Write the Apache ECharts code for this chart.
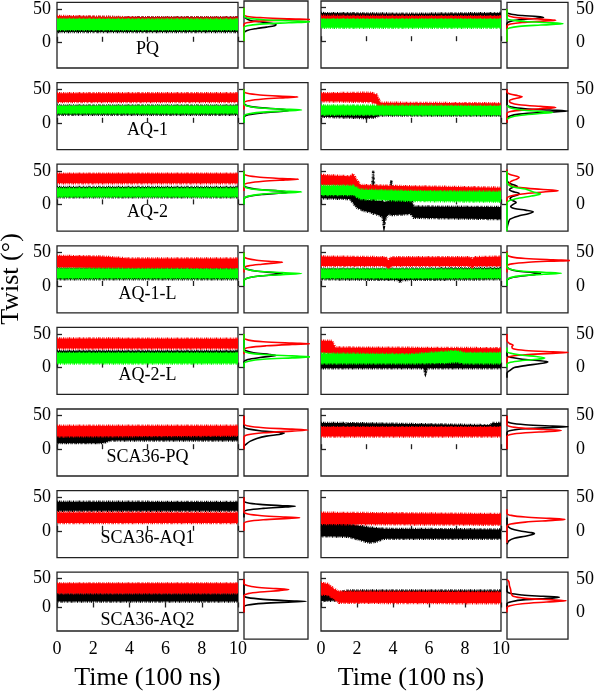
<!DOCTYPE html>
<html><head><meta charset="utf-8">
<script src="https://cdn.jsdelivr.net/npm/echarts@6/dist/echarts.min.js"></script>
<style>html,body{margin:0;padding:0;background:#fff}#c{width:600px;height:692px}</style>
</head><body><div id="c"></div>
<script>
// ---------- tick / label data ----------
const panelLabels = ['PQ','AQ-1','AQ-2','AQ-1-L','AQ-2-L','SCA36-PQ','SCA36-AQ1','SCA36-AQ2'];
const twistTicks = [0, 50];
const timeTickStepUpper = 2.5;
const timeTickStepBottom = 2;
const twistRange = [-40, 60];
const timeRange = [0, 10];

// ---------- time-series bands: [time (100 ns), low twist, high twist] ----------
const pqL_k = [[0,15,38],[5,15,37.5],[10,15,37.5]];
const pqL_r = [[0,20,39.5],[5,21,37],[10,21,37]];
const pqL_g = [[0,18,35],[5,18,34.5],[10,18,34.5]];
const pqR_k = [[0,31,42],[5,30,41],[10,31,42]];
const pqR_r = [[0,27,38],[5,27,37.5],[10,27,37.5]];
const pqR_g = [[0,20,33],[5,20,33],[10,20,33]];

const aq1L_k = [[0,12,26],[10,12,26]];
const aq1L_r = [[0,31,44],[10,31,44]];
const aq1L_g = [[0,14,25],[10,14,25]];
const aq1R_k = [[0,9,24],[2.5,7,24],[3,8,24],[3.3,11,23],[10,11,23]];
const aq1R_r = [[0,32,44],[2.8,31,45],[3.1,28,42],[3.3,18,30],[10,17,29]];
const aq1R_g = [[0,12,26],[10,11.5,25]];

const aq2L_k = [[0,10.5,26],[10,10.5,26]];
const aq2L_r = [[0,31.5,46],[10,31.5,46]];
const aq2L_g = [[0,11.5,24],[10,11.5,24]];
const aq2R_k = [[0,9,21],[1.6,8,20],[2.0,-5,14],[2.4,-10,8],[2.8,-12,6],[2.9,-14,51],[3.0,-14,6],[3.4,-18,5],[3.5,-33,4],[3.6,-20,4],[3.8,-14,6],[3.9,-16,36],[4.0,-16,6],[4.6,-15,7],[5.0,-14,8],[5.15,-20,-3],[10,-22,-4]];
const aq2R_r = [[0,29,44],[1.6,28,42],[1.8,27,45],[2.0,22,36],[2.2,17,29],[5,14,27],[10,12,25]];
const aq2R_g = [[0,14,28],[1.8,14,28],[2.2,8,22],[5,5,20],[10,4,19]];

const aq1lL_k = [[0,10,26.5],[10,10,26.5]];
const aq1lL_r = [[0,28,45],[2.5,27,44],[4,26,41],[10,26,41]];
const aq1lL_g = [[0,11.5,26],[10,11.5,25]];
const aq1lR_k = [[0,10,26],[4.3,9,26],[4.4,5,26],[4.5,9,26],[10,10,27]];
const aq1lR_r = [[0,30,44],[3.6,30,43],[3.75,25,38],[3.9,30,43],[8.3,30,43],[8.4,27,40],[8.5,30,43],[10,30,44]];
const aq1lR_g = [[0,11.5,25],[10,11.5,25]];

const aq2lL_k = [[0,12,25],[10,12,25]];
const aq2lL_r = [[0,28.5,43.5],[10,28.5,43]];
const aq2lL_g = [[0,6,22],[10,6,22]];
const aq2lR_k = [[0,-1,14],[5.7,-1,13],[5.8,-9,12],[5.9,-1,13],[10,-1,13]];
const aq2lR_r = [[0,22,40],[0.6,21,40],[0.8,17,30],[10,17,29]];
const aq2lR_g = [[0,6,21],[5,6,20],[7,7,24],[7.5,8,25],[8,6,22],[10,6,22]];

const scaPqL_k = [[0,9,27],[2.5,9,27],[3,13,29],[10,13,31]];
const scaPqL_r = [[0,19,35],[10,20,35]];
const scaPqR_k = [[0,27,39],[1.3,26,39],[1.4,21,38],[1.5,26,39],[8.9,22,36],[9.4,22,36],[9.5,27,39],[10,27,39]];
const scaPqR_r = [[0,19,33],[10,19,33]];

const scaAq1L_k = [[0,30,43.5],[10,30,43]];
const scaAq1L_r = [[0,11.5,27.5],[10,11.5,27]];
const scaAq1R_k = [[0,-8,11],[1.5,-9,10],[2.2,-14,7],[2.7,-18,5],[3.1,-16,4],[3.5,-12,3],[10,-12,2]];
const scaAq1R_r = [[0,10,27],[10,9,25]];

const scaAq2L_k = [[0,10,24],[10,10,24]];
const scaAq2L_r = [[0,24,41],[10,24,41]];
const scaAq2R_k = [[0,11,25],[1,12,26],[1.5,14,29],[10,14,29]];
const scaAq2R_r = [[0,22,42],[0.4,21,40],[0.7,15,32],[1.0,8,27],[10,7,26]];

// ---------- histograms: [twist, relative density] ----------
const pqL_kH = [[0,0],[12,0],[16,0.05],[19,0.2],[21,0.35],[23,0.48],[25,0.5],[27,0.4],[29,0.25],[31,0.1],[34,0.03],[38,0],[50,0]];
const pqL_rH = [[0,0],[25,0],[28,0.07],[30,0.25],[31.5,0.6],[32.5,1.05],[33.5,0.7],[35,0.3],[36.5,0.08],[40,0],[50,0]];
const pqL_gH = [[0,0],[20,0],[23,0.05],[25.5,0.25],[27.5,0.7],[29,1.05],[30.5,0.7],[32.5,0.25],[34.5,0.05],[38,0],[50,0]];
const pqR_kH = [[0,0],[28,0],[31,0.05],[33.5,0.2],[35.5,0.45],[37,0.6],[38.5,0.5],[40,0.25],[42,0.07],[45,0],[50,0]];
const pqR_rH = [[0,0],[24,0],[27,0.06],[29.5,0.25],[31.5,0.6],[33,0.8],[34.5,0.55],[36.5,0.2],[39,0.04],[42,0],[50,0]];
const pqR_gH = [[0,0],[18,0],[21,0.04],[23.5,0.2],[25.5,0.55],[27.5,0.92],[29,0.7],[31,0.3],[33,0.08],[36,0],[50,0]];

const aq1L_kH = [[0,0],[8,0],[12,0.07],[15,0.3],[17.5,0.65],[19,0.7],[20.5,0.55],[23,0.2],[26,0.04],[30,0],[50,0]];
const aq1L_rH = [[20,0],[30,0],[33,0.08],[35.5,0.3],[37.5,0.65],[38.5,0.84],[39.5,0.6],[41.5,0.25],[44,0.05],[47,0],[50,0]];
const aq1L_gH = [[0,0],[10,0],[13,0.06],[15.5,0.25],[17.5,0.6],[19,0.9],[20.5,0.6],[22.5,0.22],[25,0.05],[28,0],[50,0]];
const aq1R_kH = [[0,0],[6,0],[10,0.05],[13,0.2],[15.5,0.55],[17.5,1.0],[19,0.7],[21,0.3],[23.5,0.08],[27,0],[50,0]];
const aq1R_rH = [[0,0],[14,0],[17,0.06],[19.5,0.3],[21.5,0.65],[23,0.8],[24.5,0.55],[27,0.2],[30,0.06],[33,0.04],[35.5,0.1],[37.5,0.2],[39,0.25],[40.5,0.18],[43,0.05],[46,0],[50,0]];
const aq1R_gH = [[5,0],[8,0.05],[11,0.2],[13.5,0.5],[15.5,0.75],[17,0.55],[19,0.25],[22,0.06],[26,0]];

const aq2L_kH = [[0,0],[8,0],[12,0.07],[15,0.3],[17,0.6],[18.5,0.7],[20,0.55],[22.5,0.2],[25.5,0.04],[29,0],[50,0]];
const aq2L_rH = [[20,0],[29,0],[32,0.08],[34.5,0.3],[36.5,0.65],[37.5,0.85],[38.5,0.6],[40.5,0.25],[43,0.05],[46,0],[50,0]];
const aq2L_gH = [[0,0],[9,0],[12,0.06],[15,0.25],[17,0.6],[18.5,0.9],[20,0.6],[22,0.22],[24.5,0.05],[28,0],[50,0]];
const aq2R_kH = [[-35,0],[-28,0.02],[-22,0.05],[-17,0.2],[-14,0.35],[-11,0.43],[-8.5,0.3],[-6,0.12],[-3,0.06],[0,0.1],[3,0.15],[5.5,0.1],[8.5,0.05],[11.5,0.08],[14.5,0.18],[16.5,0.2],[18.5,0.12],[22,0.04],[25,0.08],[27,0.17],[29,0.12],[31.5,0.04],[36,0],[50,0]];
const aq2R_rH = [[0,0],[9,0],[12.5,0.06],[15.5,0.25],[18.5,0.6],[20.5,0.84],[22.5,0.55],[25,0.22],[28,0.07],[31,0.04],[34,0.06],[37,0.14],[40,0.2],[42,0.16],[44.5,0.05],[48,0],[52,0]];
const aq2R_gH = [[-40,0],[2,0],[6,0.05],[9.5,0.2],[12.5,0.4],[15.5,0.55],[18,0.45],[20.5,0.38],[23,0.3],[25.5,0.12],[29,0.03],[33,0],[50,0]];

const aq1lL_kH = [[0,0],[8,0],[12,0.06],[15,0.25],[17,0.5],[18.5,0.6],[20,0.45],[22.5,0.18],[25.5,0.04],[29,0],[50,0]];
const aq1lL_rH = [[20,0],[27,0],[30,0.07],[32.5,0.28],[34.5,0.5],[35.5,0.6],[36.5,0.45],[38.5,0.2],[41,0.05],[44,0],[50,0]];
const aq1lL_gH = [[0,0],[9,0],[12,0.06],[15,0.25],[17,0.6],[18.5,0.9],[20,0.6],[22,0.22],[24.5,0.05],[28,0],[50,0]];
const aq1lR_kH = [[0,0],[8,0],[12,0.06],[15,0.25],[17,0.45],[18.5,0.55],[20,0.42],[22.5,0.16],[25.5,0.04],[29,0],[50,0]];
const aq1lR_rH = [[20,0],[30,0],[33,0.08],[35.5,0.35],[37,0.7],[38,1.05],[39,0.75],[41,0.3],[43.5,0.07],[47,0],[52,0]];
const aq1lR_gH = [[0,0],[9,0],[12.5,0.06],[15.5,0.25],[17.5,0.6],[19,0.89],[20.5,0.6],[22.5,0.22],[25,0.05],[28,0],[50,0]];

const aq2lL_kH = [[0,0],[8,0],[12,0.06],[15,0.25],[17,0.42],[18,0.5],[19.5,0.4],[22,0.15],[25,0.03],[28,0],[50,0]];
const aq2lL_rH = [[20,0],[27,0],[30,0.08],[32.5,0.35],[34.5,0.75],[35.5,1.03],[36.5,0.75],[38.5,0.3],[41,0.07],[44,0],[50,0]];
const aq2lL_gH = [[0,0],[6,0],[9.5,0.07],[12.5,0.3],[14.5,0.75],[16,1.08],[17.5,0.75],[19.5,0.3],[22,0.07],[25,0],[50,0]];
const aq2lR_kH = [[-15,0],[-8,0],[-4,0.05],[0,0.12],[3,0.3],[6,0.55],[8.5,0.67],[10.5,0.5],[12.5,0.25],[15,0.08],[18,0],[25,0]];
const aq2lR_rH = [[5,0],[14,0],[17,0.07],[19.5,0.35],[21.5,0.8],[22.5,1.0],[23.5,0.75],[25.5,0.3],[28,0.1],[31,0.08],[33.5,0.1],[36,0.04],[40,0],[50,0]];
const aq2lR_gH = [[0,0],[5,0],[8,0.06],[10.5,0.25],[12.5,0.5],[14.5,0.62],[16.5,0.48],[18.5,0.25],[21,0.08],[24,0],[30,0]];

const scaPqL_kH = [[0,0],[4,0],[8,0.04],[12,0.1],[16,0.2],[19.5,0.35],[22,0.55],[24,0.63],[25.5,0.5],[27.5,0.25],[30,0.08],[33,0],[50,0]];
const scaPqL_rH = [[0,0],[18,0],[21.5,0.06],[24.5,0.3],[27,0.75],[28.5,1.0],[30,0.75],[32,0.3],[34.5,0.07],[38,0],[50,0]];
const scaPqR_kH = [[0,0],[25,0],[28,0.06],[30.5,0.3],[32.5,0.8],[33.5,1.0],[34.5,0.75],[36.5,0.3],[39,0.06],[42,0],[50,0]];
const scaPqR_rH = [[0,0],[19,0],[22,0.06],[24.5,0.3],[26.5,0.7],[28,0.89],[29.5,0.6],[31.5,0.25],[34,0.05],[37,0],[50,0]];

const scaAq1L_kH = [[20,0],[28,0],[31,0.06],[33.5,0.3],[35.5,0.65],[36.5,0.8],[37.5,0.6],[39.5,0.25],[42,0.05],[45,0],[50,0]];
const scaAq1L_rH = [[0,0],[11,0],[14,0.06],[16.5,0.3],[18.5,0.7],[19.5,0.87],[20.5,0.65],[22.5,0.28],[25,0.06],[28,0],[50,0]];
const scaAq1R_kH = [[-20,0],[-15,0.03],[-11,0.12],[-8,0.3],[-5.5,0.42],[-4,0.45],[-2.5,0.38],[0,0.2],[3,0.07],[6,0.02],[10,0],[20,0]];
const scaAq1R_rH = [[-18,0],[6,0],[10,0.06],[13,0.3],[15.5,0.75],[17,0.95],[18.5,0.7],[20.5,0.3],[23,0.07],[26,0],[32,0]];

const scaAq2L_kH = [[0,0],[8,0],[11,0.06],[13.5,0.3],[15.5,0.75],[16.5,0.97],[17.5,0.7],[19.5,0.3],[22,0.06],[25,0],[50,0]];
const scaAq2L_rH = [[0,0],[25,0],[28,0.06],[30.5,0.25],[32.5,0.55],[34,0.7],[35.5,0.5],[37.5,0.2],[40,0.05],[43,0],[50,0]];
const scaAq2R_kH = [[5,0],[13,0],[16,0.07],[19,0.3],[21,0.7],[22.5,0.86],[24,0.6],[26,0.25],[28.5,0.05],[32,0],[40,0]];
const scaAq2R_rH = [[0,0],[7,0],[10,0.05],[13,0.25],[15.5,0.65],[17.5,0.97],[19,0.7],[21,0.3],[24,0.1],[28,0.07],[34,0.06],[40,0.04],[46,0.03],[49,0]];

// ---------- assemble ----------
const COLORS = {k:'#000000', r:'#ff0000', g:'#00ff00'};
const rowsSpec = [
  {L:{t:[['k',pqL_k],['r',pqL_r],['g',pqL_g]], h:[['k',pqL_kH],['r',pqL_rH],['g',pqL_gH]]},
   R:{t:[['k',pqR_k],['r',pqR_r],['g',pqR_g]], h:[['k',pqR_kH],['r',pqR_rH],['g',pqR_gH]]}},
  {L:{t:[['k',aq1L_k],['r',aq1L_r],['g',aq1L_g]], h:[['k',aq1L_kH],['r',aq1L_rH],['g',aq1L_gH]]},
   R:{t:[['k',aq1R_k],['r',aq1R_r],['g',aq1R_g]], h:[['k',aq1R_kH],['r',aq1R_rH],['g',aq1R_gH]]}},
  {L:{t:[['k',aq2L_k],['r',aq2L_r],['g',aq2L_g]], h:[['k',aq2L_kH],['r',aq2L_rH],['g',aq2L_gH]]},
   R:{t:[['k',aq2R_k],['r',aq2R_r],['g',aq2R_g]], h:[['k',aq2R_kH],['r',aq2R_rH],['g',aq2R_gH]]}},
  {L:{t:[['k',aq1lL_k],['r',aq1lL_r],['g',aq1lL_g]], h:[['k',aq1lL_kH],['r',aq1lL_rH],['g',aq1lL_gH]]},
   R:{t:[['k',aq1lR_k],['r',aq1lR_r],['g',aq1lR_g]], h:[['k',aq1lR_kH],['r',aq1lR_rH],['g',aq1lR_gH]]}},
  {L:{t:[['k',aq2lL_k],['r',aq2lL_r],['g',aq2lL_g]], h:[['k',aq2lL_kH],['r',aq2lL_rH],['g',aq2lL_gH]]},
   R:{t:[['k',aq2lR_k],['r',aq2lR_r],['g',aq2lR_g]], h:[['k',aq2lR_kH],['r',aq2lR_rH],['g',aq2lR_gH]]}},
  {L:{t:[['k',scaPqL_k],['r',scaPqL_r]], h:[['k',scaPqL_kH],['r',scaPqL_rH]]},
   R:{t:[['k',scaPqR_k],['r',scaPqR_r]], h:[['k',scaPqR_kH],['r',scaPqR_rH]]}},
  {L:{t:[['k',scaAq1L_k],['r',scaAq1L_r]], h:[['k',scaAq1L_kH],['r',scaAq1L_rH]]},
   R:{t:[['k',scaAq1R_k],['r',scaAq1R_r]], h:[['k',scaAq1R_kH],['r',scaAq1R_rH]]}},
  {L:{t:[['k',scaAq2L_k],['r',scaAq2L_r]], h:[['k',scaAq2L_kH],['r',scaAq2L_rH]]},
   R:{t:[['k',scaAq2R_k],['r',scaAq2R_r]], h:[['k',scaAq2R_kH],['r',scaAq2R_rH]]}}
];

const FONT = "'Liberation Serif','DejaVu Serif','Times New Roman',serif";
const FRAME = '#222';
const ROW_TOP0 = 1, ROW_PITCH = 81.6, ROW_H = 67;
const COLS = [
  {tl:57, tw:181, hl:244, hw:64},
  {tl:321, tw:180, hl:507, hw:61}
];

// band renderer: polygon between the low and high envelopes, placed by the axis scales;
// an uneven dotted stroke gives the ragged fringe of the noisy trajectories
function bandRenderer(arr, color) {
  return function (params, api) {
    if (params.dataIndex !== 0) return null;
    const upper = arr.map(d => api.coord([d[0], d[2]]));
    const lower = arr.map(d => api.coord([d[0], d[1]])).reverse();
    return {type:'polygon', shape:{points: upper.concat(lower)},
      style:{fill:color, stroke:color, lineWidth:2.4, lineDash:[0.8,1.1,1.4,0.7,0.6,1.5,1.1,0.9,0.5,1.2]}};
  };
}

const grid = [], xAxis = [], yAxis = [], series = [], graphic = [];
let gi = 0;
const lastRow = rowsSpec.length - 1;

rowsSpec.forEach((row, i) => {
  const top = ROW_TOP0 + i * ROW_PITCH;
  ['L','R'].forEach((side, ci) => {
    const col = COLS[ci];
    const spec = row[side];
    grid.push({left:col.tl, top:top, width:col.tw, height:ROW_H, show:true, borderColor:FRAME, borderWidth:1.3, backgroundColor:'transparent'});
    xAxis.push({gridIndex:gi, type:'value', min:timeRange[0], max:timeRange[1],
      interval: i === lastRow ? timeTickStepBottom : timeTickStepUpper,
      axisLine:{show:false}, splitLine:{show:false},
      axisTick:{show:true, inside:true, length:5, lineStyle:{color:FRAME, width:1.3}},
      axisLabel:{show: i === lastRow, fontSize:18, fontFamily:FONT, color:'#000', margin:9},
      name: i === lastRow ? 'Time (100 ns)' : '', nameLocation:'middle', nameGap:34,
      nameTextStyle:{fontSize:26, fontFamily:FONT, color:'#000'}});
    yAxis.push({gridIndex:gi, type:'value', min:twistRange[0], max:twistRange[1],
      axisLine:{show:false}, splitLine:{show:false},
      axisTick:{show:true, inside:true, length:5, customValues:twistTicks, lineStyle:{color:FRAME, width:1.3}},
      axisLabel:{show: ci === 0, customValues:twistTicks, fontSize:18, fontFamily:FONT, color:'#000', margin:6}});
    spec.t.forEach(([c, arr]) => {
      series.push({type:'custom', xAxisIndex:gi, yAxisIndex:gi, silent:true, animation:false,
        clip:true, data: arr, encode:{x:0, y:[1,2]}, renderItem: bandRenderer(arr, COLORS[c])});
    });
    gi++;
    grid.push({left:col.hl, top:top, width:col.hw, height:ROW_H, show:true, borderColor:FRAME, borderWidth:1.3, backgroundColor:'transparent'});
    xAxis.push({gridIndex:gi, type:'value', min:0, max:1, show:false});
    yAxis.push({gridIndex:gi, type:'value', min:twistRange[0], max:twistRange[1], position:'right',
      axisLine:{show:false}, splitLine:{show:false},
      axisTick:{show:true, inside:true, length:5, customValues:twistTicks, lineStyle:{color:FRAME, width:1.3}},
      axisLabel:{show: ci === 1, customValues:twistTicks, fontSize:18, fontFamily:FONT, color:'#000', margin:8}});
    spec.h.forEach(([c, arr]) => {
      series.push({type:'line', xAxisIndex:gi, yAxisIndex:gi, clip:false,
        data: arr.map(d => [d[1], d[0]]), symbol:'none', smooth:0.3, silent:true,
        lineStyle:{color:COLORS[c], width:1.6}, animation:false});
    });
    gi++;
  });
  graphic.push({type:'text', x:147.5, y: top + 48, silent:true,
    style:{text: panelLabels[i], fontSize:18, fontFamily:FONT, fill:'#000', align:'center', verticalAlign:'middle'}});
});

graphic.push({type:'text', x:11, y:279, rotation:Math.PI/2, silent:true,
  style:{text:'Twist (°)', fontSize:26, fontFamily:FONT, fill:'#000', align:'center', verticalAlign:'middle'}});

const chart = echarts.init(document.getElementById('c'), null, {renderer:'canvas'});
chart.setOption({animation:false, backgroundColor:'#fff', grid, xAxis, yAxis, series, graphic});
</script>
</body></html>
